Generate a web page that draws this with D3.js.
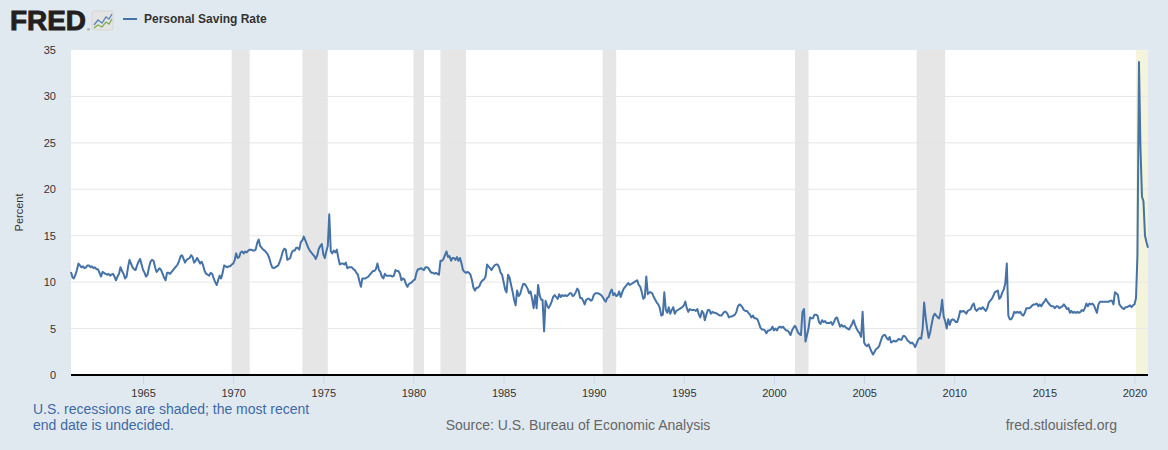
<!DOCTYPE html>
<html>
<head>
<meta charset="utf-8">
<script src="https://cdn.jsdelivr.net/npm/d3@7"></script>
<style>
  html, body { margin: 0; padding: 0; background: #e1e9f0; }
  svg { display: block; font-family: "Liberation Sans", Arial, sans-serif; }
</style>
</head>
<body>
<svg id="chart" width="1168" height="450"></svg>
<script>
// Personal Saving Rate, monthly, Jan 1961 .. Oct 2020
const firstYear = 1961;
const savingRate = [
  11.1, 10.5, 10.4, 10.8, 11.3, 12.0, 11.8, 11.6, 11.7, 11.5, 11.6, 11.8, // 1961
  11.8, 11.6, 11.7, 11.5, 11.6, 11.4, 11.4, 11.0, 10.6, 11.1, 11.0, 10.9, // 1962
  10.8, 10.9, 10.7, 10.8, 10.9, 10.6, 10.2, 10.6, 10.9, 11.6, 11.2, 10.9, // 1963
  10.4, 10.6, 11.6, 12.4, 12.0, 11.6, 11.4, 11.3, 11.8, 12.2, 12.5, 11.9, // 1964
  11.3, 11.0, 10.6, 10.8, 11.6, 12.2, 12.4, 12.3, 11.6, 11.1, 11.3, 11.5, // 1965
  11.3, 10.9, 10.5, 10.2, 11.0, 11.0, 10.9, 11.1, 11.3, 11.5, 11.7, 11.9, // 1966
  12.3, 12.8, 12.9, 12.5, 12.1, 12.4, 12.5, 12.6, 12.9, 12.7, 12.1, 12.3, // 1967
  12.6, 12.3, 12.0, 12.2, 11.8, 11.2, 10.9, 10.8, 10.7, 11.0, 10.9, 10.4, // 1968
  10.0, 9.7, 10.2, 10.7, 10.4, 11.0, 11.8, 11.7, 11.6, 11.7, 11.7, 11.9,  // 1969
  12.0, 12.4, 13.1, 12.6, 12.7, 13.2, 13.3, 13.1, 13.3, 13.2, 13.4, 13.5, // 1970
  13.5, 13.4, 13.4, 13.5, 14.2, 14.6, 13.9, 13.7, 13.5, 13.4, 13.2, 13.0, // 1971
  12.6, 12.0, 11.6, 11.5, 11.6, 11.7, 11.8, 12.2, 12.7, 13.3, 13.6, 13.5, // 1972
  12.4, 12.5, 12.6, 13.2, 13.4, 13.4, 13.7, 13.7, 13.5, 14.3, 14.5, 14.9, // 1973
  14.5, 14.1, 13.7, 13.4, 13.2, 13.0, 12.8, 12.5, 12.9, 13.6, 13.9, 14.1, // 1974
  13.0, 12.6, 13.3, 13.9, 17.3, 13.3, 13.1, 13.4, 13.2, 13.5, 12.6, 11.9, // 1975
  12.0, 12.0, 11.9, 12.1, 11.5, 11.6, 11.6, 11.6, 11.4, 11.3, 11.0, 10.8, // 1976
  10.1, 9.5, 10.4, 10.4, 10.4, 10.5, 10.6, 10.8, 11.0, 11.2, 11.2, 11.4,  // 1977
  12.0, 11.3, 11.1, 10.6, 10.4, 10.9, 10.7, 10.7, 10.7, 10.7, 10.6, 10.7, // 1978
  11.3, 11.2, 11.2, 10.9, 10.2, 10.4, 10.3, 9.8, 9.5, 9.8, 9.9, 10.0,     // 1979
  10.2, 10.3, 11.0, 11.4, 11.4, 11.5, 11.4, 11.3, 11.6, 11.6, 11.5, 11.2, // 1980
  11.0, 11.0, 10.9, 11.0, 10.9, 10.8, 12.3, 12.3, 12.5, 12.9, 13.3, 12.7, // 1981
  12.8, 12.3, 12.6, 12.6, 12.4, 12.7, 12.3, 12.6, 12.0, 11.3, 11.1, 11.0, // 1982
  11.1, 11.0, 10.8, 10.2, 9.4, 9.1, 9.4, 9.4, 9.6, 10.0, 10.2, 10.3,      // 1983
  10.6, 11.9, 11.7, 11.5, 11.3, 11.6, 11.8, 11.9, 11.9, 11.6, 11.0, 10.8, // 1984
  10.0, 9.2, 8.9, 10.8, 10.5, 9.7, 9.0, 8.1, 7.5, 9.1, 8.5, 8.7,          // 1985
  9.3, 9.8, 9.8, 9.6, 9.3, 8.8, 9.0, 8.2, 7.2, 8.6, 7.2, 9.7,             // 1986
  8.6, 8.1, 8.1, 4.7, 8.0, 7.5, 7.2, 7.5, 7.9, 8.4, 8.6, 8.4,             // 1987
  8.2, 8.7, 8.4, 8.6, 8.5, 8.6, 8.5, 8.6, 8.8, 8.8, 8.5, 8.6,             // 1988
  8.9, 9.3, 9.1, 8.3, 8.3, 8.0, 7.6, 8.1, 8.2, 8.2, 8.0, 8.1,             // 1989
  8.6, 8.8, 8.8, 8.8, 8.7, 8.6, 8.4, 8.1, 7.9, 8.3, 8.4, 8.9,             // 1990
  9.2, 8.6, 8.8, 8.5, 8.6, 9.0, 8.4, 8.9, 9.3, 9.5, 9.7, 9.9,             // 1991
  9.7, 9.8, 9.9, 10.0, 10.1, 10.2, 9.7, 9.5, 8.9, 8.2, 8.4, 10.6,         // 1992
  8.7, 8.9, 8.9, 8.8, 8.4, 8.1, 7.8, 7.6, 7.2, 6.4, 6.5, 8.9,             // 1993
  7.0, 6.7, 7.3, 6.6, 7.0, 7.3, 6.6, 6.9, 7.0, 7.1, 7.2, 7.3,             // 1994
  7.5, 7.9, 7.2, 6.8, 7.1, 7.0, 7.0, 7.0, 6.9, 7.1, 6.5, 6.2,             // 1995
  6.9, 6.7, 5.9, 6.5, 7.0, 7.0, 6.6, 6.8, 6.7, 6.7, 6.6, 6.5,             // 1996
  6.4, 6.4, 6.6, 6.8, 6.8, 6.6, 6.2, 6.3, 6.3, 6.4, 6.5, 6.8,             // 1997
  7.4, 7.6, 7.5, 7.3, 7.0, 6.9, 6.9, 6.7, 6.5, 6.2, 6.4, 6.1,             // 1998
  6.1, 6.0, 5.6, 5.1, 4.9, 4.9, 4.8, 4.5, 4.8, 4.8, 4.9, 5.2,             // 1999
  4.8, 5.0, 4.8, 5.1, 5.2, 5.1, 5.2, 5.0, 4.8, 4.8, 4.6, 4.3,             // 2000
  4.8, 5.1, 5.3, 5.0, 4.6, 4.4, 4.3, 6.8, 7.1, 3.6, 4.3, 5.0,             // 2001
  6.2, 6.1, 6.1, 6.5, 6.5, 6.4, 5.7, 5.5, 5.9, 5.7, 5.8, 5.6,             // 2002
  5.6, 5.6, 5.7, 5.4, 5.7, 6.1, 6.2, 5.7, 5.2, 5.4, 5.2, 5.3,             // 2003
  5.1, 5.0, 4.9, 5.2, 5.5, 5.9, 5.4, 5.0, 4.7, 4.5, 4.1, 6.8,             // 2004
  3.5, 3.2, 3.1, 3.3, 2.9, 2.5, 2.2, 2.5, 2.8, 2.9, 3.1, 3.6,             // 2005
  4.1, 4.3, 4.3, 4.0, 3.8, 4.1, 3.5, 3.6, 3.7, 3.6, 3.7, 3.9,             // 2006
  3.8, 3.8, 4.2, 4.2, 4.0, 3.7, 3.6, 3.4, 3.5, 3.3, 3.0, 3.4,             // 2007
  3.8, 4.0, 3.9, 5.0, 7.8, 6.2, 5.0, 4.0, 4.6, 5.5, 6.3, 6.6,             // 2008
  6.4, 6.2, 6.1, 6.8, 8.1, 6.3, 5.8, 5.0, 6.0, 5.4, 5.9, 6.0,             // 2009
  5.9, 5.7, 5.7, 6.2, 6.9, 6.8, 6.9, 6.8, 6.6, 6.9, 7.0, 7.1,             // 2010
  7.5, 7.7, 7.1, 6.9, 7.1, 7.2, 7.1, 7.3, 7.1, 6.9, 7.2, 7.8,             // 2011
  8.0, 8.2, 8.5, 8.9, 9.0, 9.1, 8.2, 8.4, 8.9, 9.2, 9.9, 12.0,            // 2012
  6.4, 6.0, 6.0, 6.3, 6.8, 6.7, 6.8, 6.7, 6.8, 6.5, 6.4, 6.7,             // 2013
  7.2, 7.2, 7.2, 7.3, 7.5, 7.6, 7.6, 7.7, 7.4, 7.6, 7.4, 7.7,             // 2014
  7.9, 8.2, 7.9, 7.7, 7.5, 7.4, 7.4, 7.2, 7.4, 7.4, 7.2, 7.3,             // 2015
  7.4, 7.6, 7.4, 7.1, 7.2, 6.7, 6.9, 6.7, 6.8, 6.7, 6.8, 6.7,             // 2016
  6.8, 7.0, 6.9, 7.2, 7.7, 7.4, 7.7, 7.6, 7.7, 7.5, 7.1, 6.7,             // 2017
  7.6, 7.9, 7.9, 7.9, 7.9, 7.9, 7.9, 7.9, 8.0, 8.0, 7.6, 8.9,             // 2018
  8.8, 8.6, 7.6, 7.4, 7.2, 7.1, 7.3, 7.3, 7.4, 7.5, 7.3, 7.5,             // 2019
  7.6, 8.3, 12.9, 33.7, 24.5, 19.2, 18.7, 15.0, 14.3, 13.7                // 2020
];

// NBER recessions [start, end] as "YYYY-MM"; the last one has no end date yet
const recessions = [
  ["1969-12", "1970-11"], ["1973-11", "1975-03"], ["1980-01", "1980-07"],
  ["1981-07", "1982-11"], ["1990-07", "1991-03"], ["2001-03", "2001-11"],
  ["2007-12", "2009-06"], ["2020-02", null]
];

const yTicks = [0, 5, 10, 15, 20, 25, 30, 35];
const xTickYears = [1965, 1970, 1975, 1980, 1985, 1990, 1995, 2000, 2005, 2010, 2015, 2020];

const width = 1168, height = 450;
const margin = {top: 50, right: 20, bottom: 75, left: 71};

const series = savingRate.map((v, i) => ({date: new Date(firstYear, i, 1), value: v}));
const lastDate = series[series.length - 1].date;
const parseMonth = d3.timeParse("%Y-%m");

const svg = d3.select("#chart");

const x = d3.scaleTime()
  .domain([series[0].date, lastDate])
  .range([margin.left, width - margin.right]);
const y = d3.scaleLinear()
  .domain([0, 35])
  .range([height - margin.bottom, margin.top]);

// plot background
svg.append("rect")
  .attr("x", margin.left)
  .attr("y", margin.top)
  .attr("width", width - margin.left - margin.right)
  .attr("height", height - margin.top - margin.bottom)
  .attr("fill", "#ffffff");

// recession bands
svg.append("g").selectAll("rect")
  .data(recessions)
  .join("rect")
  .attr("x", d => x(parseMonth(d[0])))
  .attr("y", margin.top)
  .attr("width", d => {
    const end = d[1] ? d3.timeMonth.offset(parseMonth(d[1]), 1) : lastDate;
    return Math.min(x(end), width - margin.right) - x(parseMonth(d[0]));
  })
  .attr("height", height - margin.top - margin.bottom)
  .attr("fill", d => d[1] ? "#e6e6e6" : "#f4f4dd");

// horizontal grid
svg.append("g").selectAll("line")
  .data(yTicks.filter(t => t > 0 && t < 35))
  .join("line")
  .attr("x1", margin.left)
  .attr("x2", width - margin.right)
  .attr("y1", d => y(d))
  .attr("y2", d => y(d))
  .attr("stroke", "#e6e6e6")
  .attr("stroke-width", 1);

// y axis labels
const yAxis = svg.append("g")
  .attr("transform", `translate(${margin.left - 15},0)`)
  .call(d3.axisLeft(y).tickValues(yTicks).tickSize(0).tickPadding(0));
yAxis.select(".domain").remove();
yAxis.selectAll("text")
  .attr("fill", "#333333")
  .attr("font-size", 11)
  .attr("font-family", "'Liberation Sans', Arial, sans-serif");

svg.append("text")
  .attr("transform", `translate(23,${(margin.top + height - margin.bottom) / 2}) rotate(-90)`)
  .attr("text-anchor", "middle")
  .attr("fill", "#333333")
  .attr("font-size", 11)
  .text("Percent");

// x axis
const xAxis = svg.append("g")
  .attr("transform", `translate(0,${height - margin.bottom})`)
  .call(d3.axisBottom(x)
    .tickValues(xTickYears.map(yr => new Date(yr, 0, 1)))
    .tickFormat(d3.timeFormat("%Y"))
    .tickSize(9)
    .tickPadding(5));
xAxis.select(".domain").remove();
xAxis.selectAll(".tick line").attr("stroke", "#ccd6eb");
xAxis.selectAll("text")
  .attr("fill", "#333333")
  .attr("font-size", 11)
  .attr("font-family", "'Liberation Sans', Arial, sans-serif");

svg.append("line")
  .attr("x1", margin.left)
  .attr("x2", width - margin.right)
  .attr("y1", y(0))
  .attr("y2", y(0))
  .attr("stroke", "#000000")
  .attr("stroke-width", 2);

// the series
const line = d3.line()
  .x(d => x(d.date))
  .y(d => y(d.value));

svg.append("path")
  .datum(series)
  .attr("d", line)
  .attr("fill", "none")
  .attr("stroke", "#4572a7")
  .attr("stroke-width", 2)
  .attr("stroke-linejoin", "round");

// header: logo + legend
const logo = svg.append("g").attr("transform", "translate(10,8)");
logo.append("text")
  .attr("x", 0)
  .attr("y", 22)
  .attr("font-size", 27)
  .attr("font-weight", "bold")
  .attr("textLength", 76)
  .attr("lengthAdjust", "spacingAndGlyphs")
  .attr("fill", "#231f20")
  .attr("stroke", "#231f20")
  .attr("stroke-width", 0.9)
  .text("FRED");
logo.append("text")
  .attr("x", 77)
  .attr("y", 23)
  .attr("font-size", 4)
  .attr("fill", "#231f20")
  .text("®");
const icon = logo.append("g").attr("transform", "translate(82,3)");
icon.append("rect")
  .attr("width", 21).attr("height", 19).attr("rx", 2)
  .attr("fill", "#e4e4e4").attr("stroke", "#d6d6d6");
icon.append("path")
  .attr("d", "M2,14 L6,9 L10,12 L14,6 L17,8 L20,3")
  .attr("fill", "none").attr("stroke", "#5b84b8").attr("stroke-width", 1.3);
icon.append("path")
  .attr("d", "M2,17 L6,14 L10,16 L14,11 L17,13 L20,8")
  .attr("fill", "none").attr("stroke", "#7fae48").attr("stroke-width", 1.3);

svg.append("line")
  .attr("x1", 123).attr("x2", 137)
  .attr("y1", 19).attr("y2", 19)
  .attr("stroke", "#4572a7").attr("stroke-width", 2);
svg.append("text")
  .attr("x", 144)
  .attr("y", 23)
  .attr("font-size", 12)
  .attr("font-weight", "bold")
  .attr("fill", "#333333")
  .text("Personal Saving Rate");

// footer
const note = svg.append("text")
  .attr("x", 33)
  .attr("fill", "#3d6aa5")
  .attr("font-size", 14);
note.append("tspan").attr("x", 33).attr("y", 414).text("U.S. recessions are shaded; the most recent");
note.append("tspan").attr("x", 33).attr("y", 430).text("end date is undecided.");

svg.append("text")
  .attr("x", 578)
  .attr("y", 430)
  .attr("text-anchor", "middle")
  .attr("fill", "#666666")
  .attr("font-size", 14)
  .text("Source: U.S. Bureau of Economic Analysis");

svg.append("text")
  .attr("x", 1117)
  .attr("y", 430)
  .attr("text-anchor", "end")
  .attr("fill", "#666666")
  .attr("font-size", 14)
  .text("fred.stlouisfed.org");
</script>
</body>
</html>
